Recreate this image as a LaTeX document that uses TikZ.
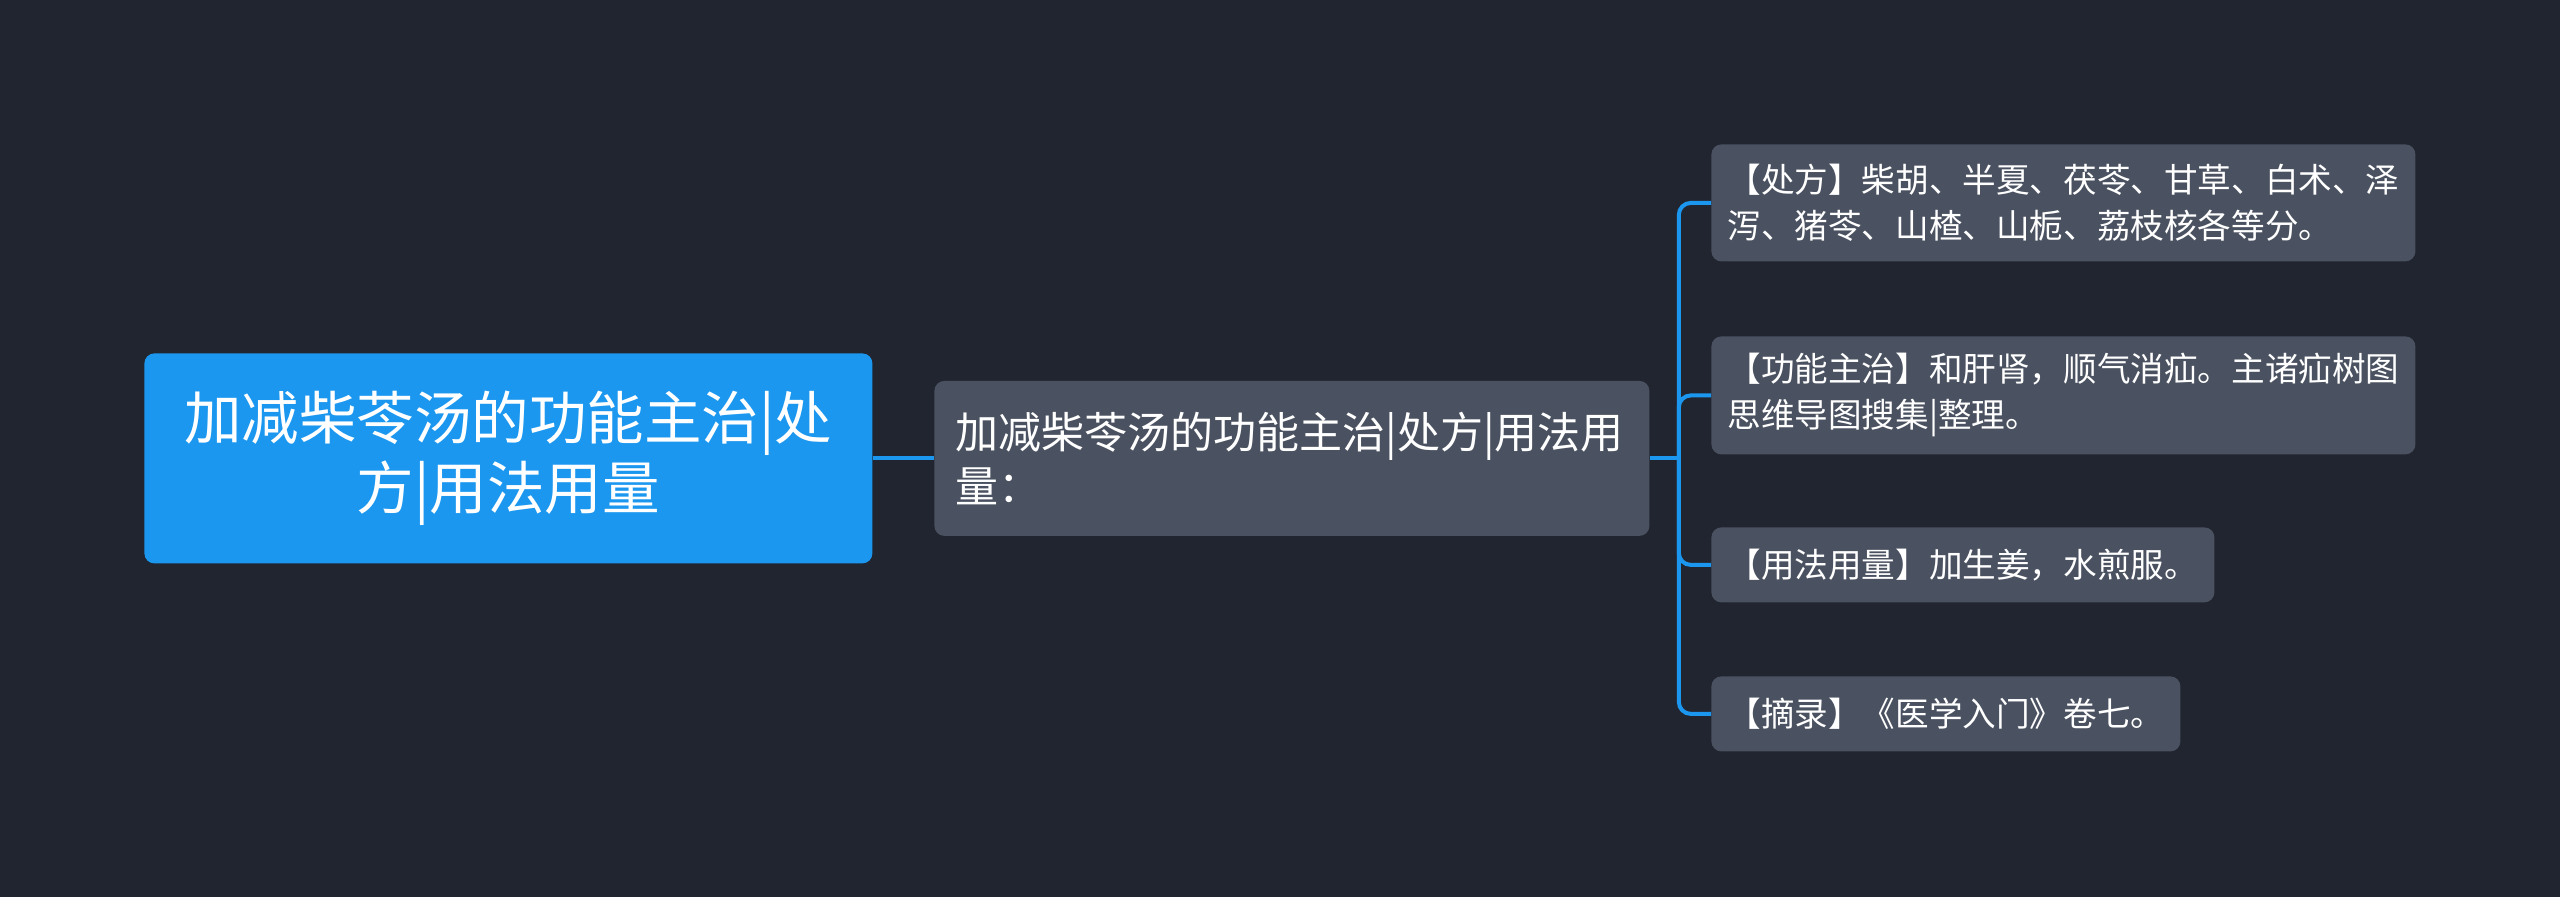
\documentclass[tikz,border=0pt]{standalone}
\usepackage{fontspec}
\newfontfamily\cjk{Noto Sans CJK SC}
\usepackage{xcolor}
\definecolor{bgnavy}{RGB}{33,37,48}
\definecolor{rootblue}{RGB}{27,151,240}
\definecolor{leafgray}{RGB}{74,81,96}

\begin{document}
\begin{tikzpicture}[x=0.5pt, y=-0.5pt,
  rootbox/.style={fill=rootblue, rounded corners=5pt, text=white, align=center,
    anchor=north west, inner sep=0pt, font=\cjk\fontsize{28.75}{35}\selectfont},
  midbox/.style={fill=leafgray, rounded corners=5pt, text=white, align=left,
    anchor=north west, inner xsep=10.5pt, inner ysep=0pt, font=\cjk\fontsize{21.5}{27}\selectfont},
  leafbox/.style={fill=leafgray, rounded corners=5pt, text=white, align=left,
    anchor=north west, inner xsep=8pt, inner ysep=0pt, font=\cjk\fontsize{16.8}{23}\selectfont},
  link/.style={draw=rootblue, line width=2pt}]
  \useasboundingbox (0,0) rectangle (2560,897);
  \fill[bgnavy] (0,0) rectangle (2560,897);

  % main topic and its one branch
  \node[rootbox, minimum width=364pt, minimum height=105pt] (root) at (144,353)
    {加减柴苓汤的功能主治|处\\方|用法用量};
  \node[midbox, text width=336.5pt, minimum height=77.5pt] (mid) at (934,380.5)
    {加减柴苓汤的功能主治|处方|用法用\\量：};

  % leaves
  \node[leafbox, text width=336pt, minimum height=58.5pt] (chufang) at (1711,144)
    {【处方】柴胡、半夏、茯苓、甘草、白术、泽\\泻、猪苓、山楂、山栀、荔枝核各等分。};
  \node[leafbox, text width=336pt, minimum height=59pt] (gongneng) at (1711,336)
    {【功能主治】和肝肾，顺气消疝。主诸疝树图\\思维导图搜集|整理。};
  \node[leafbox, text width=235.5pt, minimum height=37.5pt] (yongfa) at (1711,527)
    {【用法用量】加生姜，水煎服。};
  \node[leafbox, text width=218.5pt, minimum height=37.5pt] (zhailu) at (1711,676)
    {【摘录】《医学入门》卷七。};

  % connectors
  \coordinate (bus) at ([xshift=14.5pt]mid.east);
  \draw[link] (root.east) -- (mid.west);
  \draw[link] (mid.east) -- (bus);
  \foreach \leaf in {chufang,gongneng,yongfa,zhailu}
    \draw[link, rounded corners=6pt] (bus) |- (\leaf.west);
\end{tikzpicture}
\end{document}
